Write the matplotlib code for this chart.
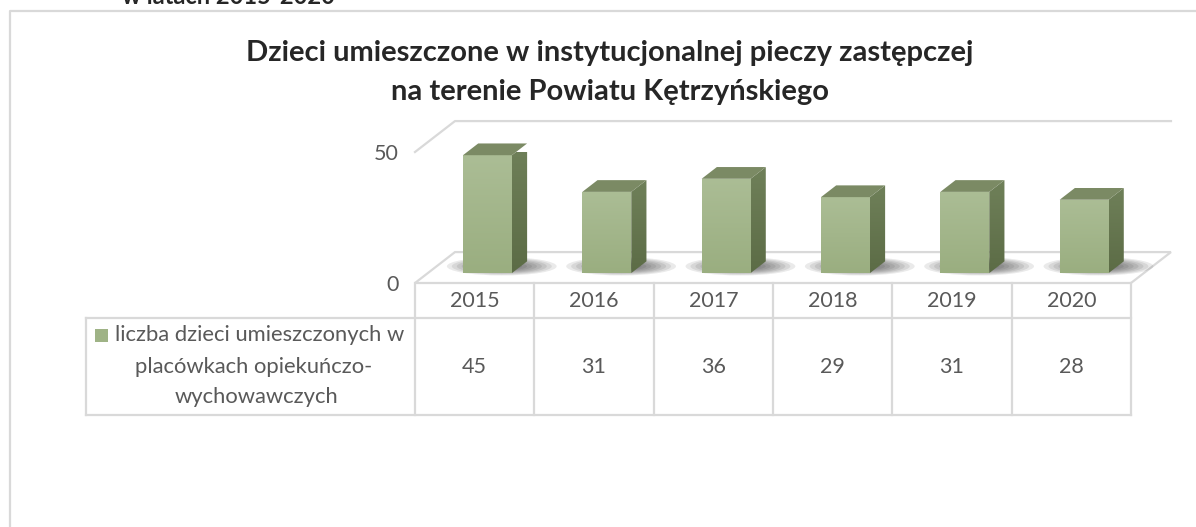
import numpy as np
import matplotlib.pyplot as plt
from matplotlib.patches import Polygon, Ellipse, Rectangle
from matplotlib.colors import LinearSegmentedColormap
from matplotlib.transforms import blended_transform_factory

# data
years = ["2015", "2016", "2017", "2018", "2019", "2020"]
children = [45, 31, 36, 29, 31, 28]
y_ticks = [0, 50]
series_lines = ["liczba dzieci umieszczonych w", "placówkach opiekuńczo-", "wychowawczych"]
title_lines = ["Dzieci umieszczone w instytucjonalnej pieczy zastępczej",
               "na terenie Powiatu Kętrzyńskiego"]
caption = "w latach 2015-2020"

W, H = 1196, 527
GRID, TXT, DARK = "#d9d9d9", "#595959", "#262626"
FRONT = LinearSegmentedColormap.from_list("front", ["#9aae80", "#abbd95"])
SIDE = LinearSegmentedColormap.from_list("side", ["#5c6c46", "#6f8059"])
TOP_C, MARK = "#7b8a64", "#9fb386"

plt.rcParams["font.family"] = ["Lato", "DejaVu Sans"]


def fx(px):
    return px / W


def fy(py):
    return 1 - py / H


fig = plt.figure(figsize=(W / 100, H / 100), dpi=100)
ax = fig.add_axes([fx(415), fy(283), fx(1131) - fx(415), fy(152) - fy(283)])
n = len(years)
ax.set_xlim(-0.5, n - 0.5)
ax.set_ylim(0, 50)
ax.axis("off")

# depth of the pseudo-3D box, in data units
DX, DY = 0.335, 11.8
f0, fd, hw = 0.32, 0.38, 0.205

# floor and back wall gridline
xl, xr = -0.5, n - 0.5
ax.add_patch(Polygon([(xl, 0), (xr, 0), (xr + DX, DY), (xl + DX, DY)], closed=True,
                     fill=False, edgecolor=GRID, linewidth=1.6, clip_on=False))
ax.plot([xl, xl + DX, xr + DX], [50, 50 + DY, 50 + DY], color=GRID, linewidth=1.6,
        clip_on=False)

grad = np.linspace(0, 1, 64).reshape(-1, 1)
for i, v in enumerate(children):
    x0 = i - hw + f0 * DX
    x1 = i + hw + f0 * DX
    yb, yt = f0 * DY, v + f0 * DY
    # soft shadow on the floor, heavier behind the bar
    for k in range(9):
        s = 1 - k * 0.09
        ax.add_patch(Ellipse((i + 0.12 + f0 * DX, yb + 2.6), 0.92 * s, 7.0 * s,
                             facecolor="#1a1a1a", edgecolor="none", alpha=0.09,
                             clip_on=False, zorder=2))
    front = Polygon([(x0, yb), (x1, yb), (x1, yt), (x0, yt)], closed=True,
                    facecolor="none", edgecolor="none", clip_on=False, zorder=3)
    ax.add_patch(front)
    im = ax.imshow(grad, extent=(x0, x1, yb, yt), origin="lower", aspect="auto",
                   cmap=FRONT, zorder=3)
    im.set_clip_path(front)
    side = Polygon([(x1, yb), (x1 + fd * DX, yb + fd * DY), (x1 + fd * DX, yt + fd * DY),
                    (x1, yt)], closed=True, facecolor="none", edgecolor="none",
                   clip_on=False, zorder=3)
    ax.add_patch(side)
    im2 = ax.imshow(grad, extent=(x1, x1 + fd * DX, yb, yt + fd * DY), origin="lower",
                    aspect="auto", cmap=SIDE, zorder=3)
    im2.set_clip_path(side)
    ax.add_patch(Polygon([(x0, yt), (x1, yt), (x1 + fd * DX, yt + fd * DY),
                          (x0 + fd * DX, yt + fd * DY)], closed=True,
                         facecolor=TOP_C, edgecolor="none", clip_on=False, zorder=3))

ax.set_xlim(-0.5, n - 0.5)
ax.set_ylim(0, 50)

# value axis labels
for t in y_ticks:
    ax.text(-0.64, t - 0.8, str(t), ha="right", va="center", fontsize=15.5, color=TXT)

# data table under the floor
bt = blended_transform_factory(ax.transData, fig.transFigure)
x_left = ax.transData.inverted().transform((86, 0))[0]
for k in range(n + 1):
    ax.plot([k - 0.5, k - 0.5], [fy(283), fy(415)], transform=bt, color=GRID,
            linewidth=1.6, clip_on=False)
ax.plot([x_left, x_left], [fy(318), fy(415)], transform=bt, color=GRID,
        linewidth=1.6, clip_on=False)
for yy in (318, 415):
    ax.plot([x_left, xr], [fy(yy), fy(yy)], transform=bt, color=GRID,
            linewidth=1.6, clip_on=False)
for i, (yr, v) in enumerate(zip(years, children)):
    ax.text(i, fy(301), yr, transform=bt, ha="center", va="center", fontsize=15.5,
            color=TXT)
    ax.text(i, fy(367), str(v), transform=bt, ha="center", va="center", fontsize=15.5,
            color=TXT)

# series label with its marker
for (cx, cy), line in zip([(260, 335), (254, 367), (256.5, 397)], series_lines):
    fig.text(fx(cx), fy(cy), line, ha="center", va="center", fontsize=15.8, color=TXT)
fig.patches.append(Rectangle((fx(95), fy(342)), fx(13), fy(329) - fy(342),
                             transform=fig.transFigure, facecolor=MARK,
                             edgecolor="none"))

# title and the clipped caption above the chart frame
fig.text(fx(610), fy(61), title_lines[0], ha="center", va="baseline", fontsize=21,
         fontweight="bold", color=DARK)
fig.text(fx(610), fy(100), title_lines[1], ha="center", va="baseline", fontsize=21,
         fontweight="bold", color=DARK)
fig.text(fx(122), fy(4), caption, ha="left", va="baseline", fontsize=17,
         fontweight="bold", color=DARK)

# chart frame (left and top edges visible)
fig.add_artist(plt.Line2D([fx(10), fx(10), 1], [0, fy(11), fy(11)],
                          transform=fig.transFigure, color=GRID, linewidth=1.6))

fig.savefig("out.png", dpi=100, facecolor="white")
